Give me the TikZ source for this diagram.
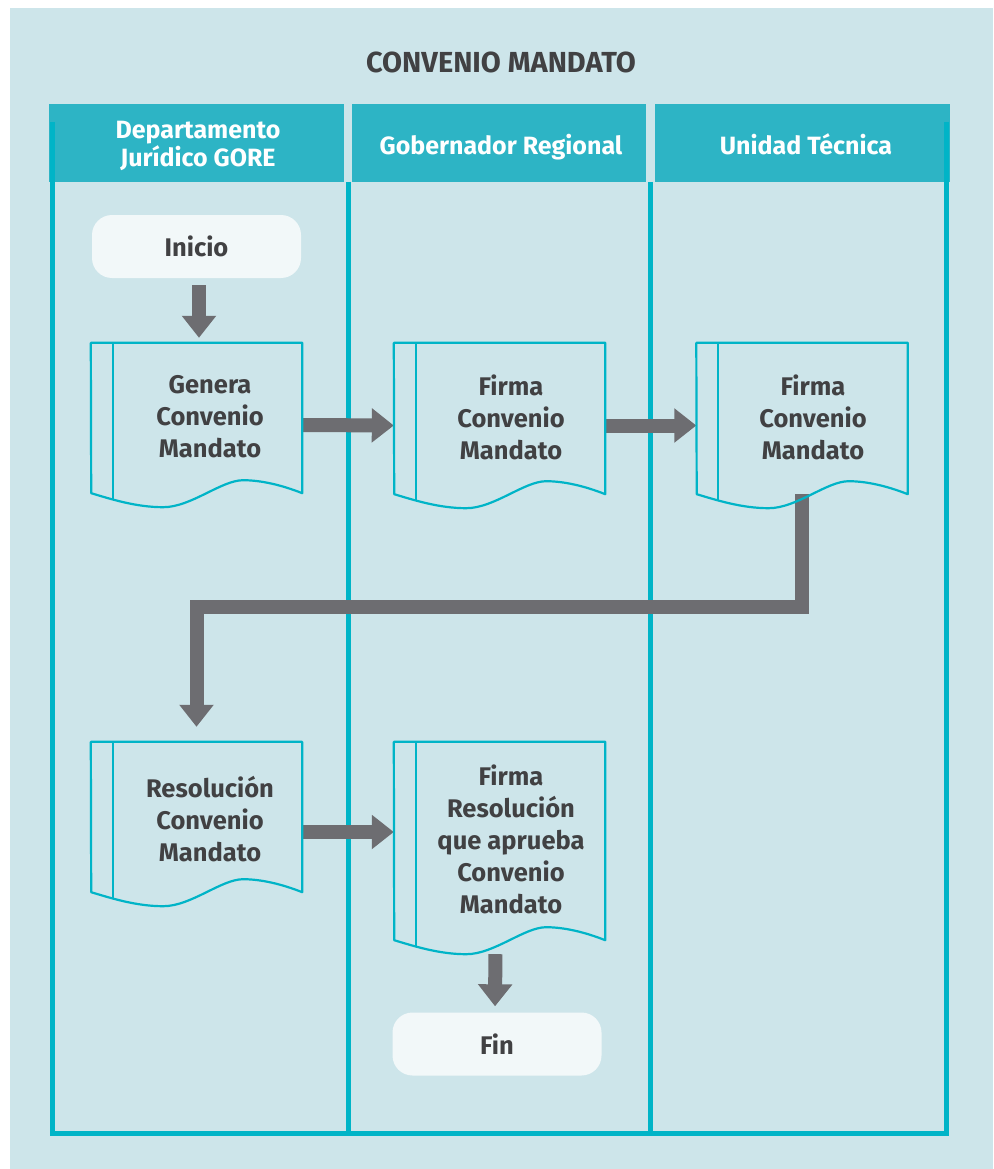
\documentclass[tikz,border=0pt]{standalone}
\usepackage{fontspec}
\setmainfont{Fira Sans}
\usetikzlibrary{arrows.meta,calc}

\definecolor{bgblue}{HTML}{CDE5EA}
\definecolor{hdrblue}{HTML}{2DB4C5}
\definecolor{laneblue}{HTML}{00B4C7}
\definecolor{arrowgray}{HTML}{6D6D71}
\definecolor{termfill}{HTML}{F2F8F9}
\definecolor{inkgray}{HTML}{414143}

% document symbol: straight top and sides, wavy bottom, inner margin line
\newcommand\docoutline[1]{%
  \draw[docline] (#1.north west) -- (#1.north east) -- (#1.south east)
    .. controls +(-20,-8) and +(18,0) .. ++(-59,-13)
    .. controls +(-22,0) and +(28,0) .. ++(-80,27)
    .. controls +(-27,0) and +(20,6) .. ++(-72,-14) -- cycle;
  \draw[docline] ($(#1.north west)+(22,0)$) -- ($(#1.south west)+(22,7)$);}

\begin{document}
\begin{tikzpicture}[x=1pt,y=-1pt,
  title/.style={font=\fontsize{29}{32}\selectfont\bfseries, text=inkgray},
  hdr/.style={text=white, inner sep=0pt, align=center,
    font=\fontsize{25}{28}\selectfont\bfseries},
  lane/.style={draw=laneblue, line width=5pt},
  docbox/.style={rectangle, draw=none, inner sep=0pt, minimum width=211pt},
  docline/.style={draw=laneblue, line width=2.2pt, line join=round},
  txt/.style={align=center, text=inkgray, inner sep=0pt,
    font=\fontsize{25.5}{32}\selectfont\bfseries},
  term/.style={fill=termfill, rounded corners=20pt, minimum width=209pt,
    minimum height=63pt, inner sep=0pt, text=inkgray,
    font=\fontsize{25.5}{32}\selectfont\bfseries},
  conn/.style={draw=arrowgray, line width=14pt, line join=miter,
    -{Triangle[length=22pt,width=33pt]}}
]
\useasboundingbox (0,0) rectangle (993,1169);
\fill[white] (0,0) rectangle (993,1169);
\fill[bgblue] (10,8) rectangle (993,1169);

\node[title] (ttl) at (501,62) {CONVENIO MANDATO};

% lane headers
\fill[hdrblue] (49,104) rectangle (344,182);
\fill[hdrblue] (352,104) rectangle (646,182);
\fill[hdrblue] (655,104) rectangle (950,182);
\node[hdr] (h1) at (198,146) {Departamento\\Jurídico GORE};
\node[hdr] (h2) at (501,147) {Gobernador Regional};
\node[hdr] (h3) at (806,144) {Unidad Técnica};

% lane borders
\draw[lane] (52,122) -- (52,1133.5) -- (949,1133.5);
\draw[lane] (946.5,122) -- (946.5,1133.5);
\draw[lane] (348,182) -- (348,1133.5);
\draw[lane] (650.5,182) -- (650.5,1133.5);

% terminals
\node[term] (inicio) at (196.5,246.5) {Inicio};
\node[term] (fin) at (497,1044) {Fin};

% documents
\node[docbox, minimum height=150pt] (genera) at (196.5,418) {};
\node[docbox, minimum height=151pt] (firma1) at (499.5,418.5) {};
\node[docbox, minimum height=151pt] (firma2) at (802,418.5) {};
\node[docbox, minimum height=150pt] (resol) at (196.5,817) {};
\node[docbox, minimum height=198pt] (firma3) at (499.5,841) {};

\node[txt] (genera-t) at (210,417) {Genera\\Convenio\\Mandato};
\node[txt] (firma1-t) at (511,417) {Firma\\Convenio\\Mandato};
\node[txt] (firma2-t) at (813,417) {Firma\\Convenio\\Mandato};
\node[txt] (resol-t) at (210,819) {Resolución\\Convenio\\Mandato};
\node[txt] (firma3-t) at (511,839) {Firma\\Resolución\\que aprueba\\Convenio\\Mandato};

% connectors
\draw[conn, shorten <=7pt, shorten >=5pt]
  ([xshift=2.5pt]inicio.south) -- ([xshift=2.5pt]genera.north);
\draw[conn, shorten <=1pt] ([yshift=-7pt]genera.east) -- ([yshift=-7pt]firma1.west);
\draw[conn, shorten <=1pt] ([yshift=-7pt]firma1.east) -- ([yshift=-7pt]firma2.west);
\draw[conn] (firma2.south) -- ++(0,113) -| ([yshift=15pt]resol.north);
\draw[conn, shorten <=1pt] ([yshift=-15pt]resol.east) -- ([yshift=-15pt]resol.east -| firma3.west);
\draw[conn, shorten <=14pt, shorten >=6pt]
  ([xshift=-4pt]firma3.south) -- ([xshift=-2pt]fin.north);

\docoutline{genera}
\docoutline{firma1}
\docoutline{firma2}
\docoutline{resol}
\docoutline{firma3}
\end{tikzpicture}
\end{document}
